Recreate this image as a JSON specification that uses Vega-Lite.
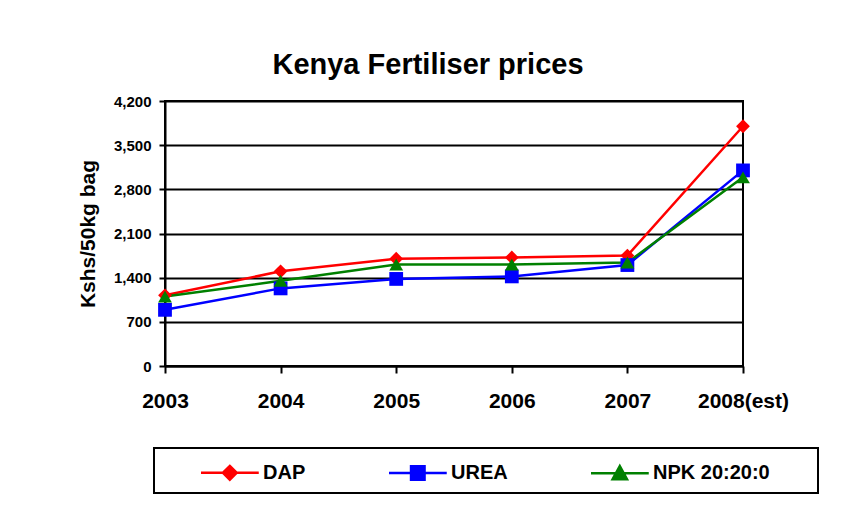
{
  "$schema": "https://vega.github.io/schema/vega-lite/v6.json",
  "width": 578,
  "height": 265,
  "autosize": {"type": "none"},
  "padding": {"left": 165, "top": 101, "right": 98, "bottom": 151},
  "background": "white",
  "title": {"text": "Kenya Fertiliser prices", "fontSize": 29, "font": "Liberation Sans", "fontWeight": "bold", "color": "black", "anchor": "middle", "dx": -26, "dy": 33, "offset": 24, "baseline": "alphabetic"},
  "config": {"view": {"stroke": "black", "strokeWidth": 2}, "font": "Liberation Sans"},
  "data": {"values": [
    {"series": "DAP", "year": "2003", "price": 1120},
    {"series": "DAP", "year": "2004", "price": 1500},
    {"series": "DAP", "year": "2005", "price": 1700},
    {"series": "DAP", "year": "2006", "price": 1720},
    {"series": "DAP", "year": "2007", "price": 1750},
    {"series": "DAP", "year": "2008(est)", "price": 3800},
    {"series": "UREA", "year": "2003", "price": 890},
    {"series": "UREA", "year": "2004", "price": 1230},
    {"series": "UREA", "year": "2005", "price": 1380},
    {"series": "UREA", "year": "2006", "price": 1420},
    {"series": "UREA", "year": "2007", "price": 1600},
    {"series": "UREA", "year": "2008(est)", "price": 3100},
    {"series": "NPK 20:20:0", "year": "2003", "price": 1100},
    {"series": "NPK 20:20:0", "year": "2004", "price": 1350},
    {"series": "NPK 20:20:0", "year": "2005", "price": 1610},
    {"series": "NPK 20:20:0", "year": "2006", "price": 1610},
    {"series": "NPK 20:20:0", "year": "2007", "price": 1640},
    {"series": "NPK 20:20:0", "year": "2008(est)", "price": 2990}
  ]},
  "encoding": {
    "x": {"field": "year", "type": "ordinal", "sort": null, "scale": {"type": "point", "padding": 0},
      "axis": {"title": null, "labelAngle": 0, "labelFontSize": 21, "labelFontWeight": "bold", "labelColor": "black", "domainColor": "black", "domainWidth": 2, "tickColor": "black", "tickWidth": 2, "tickSize": 7, "labelPadding": 17, "grid": false}},
    "y": {"field": "price", "type": "quantitative", "scale": {"domain": [0, 4200], "nice": false},
      "axis": {"values": [0, 700, 1400, 2100, 2800, 3500, 4200], "format": ",.0f", "title": "Kshs/50kg bag", "titleFontSize": 21, "titleFontWeight": "bold", "titleColor": "black", "titlePadding": 15,
        "labelFontSize": 15, "labelFontWeight": "bold", "labelColor": "black", "labelPadding": 8, "tickSize": 6, "tickColor": "black", "tickWidth": 2, "domainColor": "black", "domainWidth": 2,
        "grid": true, "gridColor": "black", "gridWidth": 2, "gridOpacity": 1}},
    "color": {"field": "series", "type": "nominal", "sort": ["DAP", "UREA", "NPK 20:20:0"],
      "scale": {"domain": ["DAP", "UREA", "NPK 20:20:0"], "range": ["#FF0000", "#0000FF", "#008000"]},
      "legend": {"orient": "none", "legendX": -11, "legendY": 347, "direction": "horizontal",
        "title": "\u00a0", "titleOrient": "right", "titlePadding": 40, "titleFontSize": 20,
        "strokeColor": "black", "padding": 8, "symbolSize": 900, "labelOffset": 68, "columnPadding": 44,
        "labelFontSize": 20, "labelFontWeight": "bold", "labelColor": "black", "labelLimit": 300,
        "encode": {
          "legend": {"update": {"strokeWidth": {"value": 2}}},
          "symbols": {"update": {
            "shape": {"signal": "datum.value === 'DAP' ? 'M1.5,0H5.35M3.42,-0.46L3.88,0L3.42,0.46L2.96,0Z' : datum.value === 'UREA' ? 'M1.5,0H5.35M2.97,-0.45H3.87V0.45H2.97Z' : 'M1.5,0H5.35M3.42,-0.48L3.9,0.4H2.94Z'"},
            "fill": {"scale": "color", "field": "value"},
            "stroke": {"scale": "color", "field": "value"},
            "strokeWidth": {"value": 2.5},
            "size": {"value": 900},
            "opacity": {"value": 1},
            "fillOpacity": {"value": 1}
          }}
        }}}
  },
  "layer": [
    {"mark": {"type": "line", "strokeWidth": 2.5}},
    {"mark": {"type": "point", "filled": true, "opacity": 1, "size": 190},
      "encoding": {"shape": {"condition": [{"test": "datum.series === 'DAP'", "value": "diamond"}, {"test": "datum.series === 'UREA'", "value": "square"}], "value": "triangle-up"}}}
  ]
}
